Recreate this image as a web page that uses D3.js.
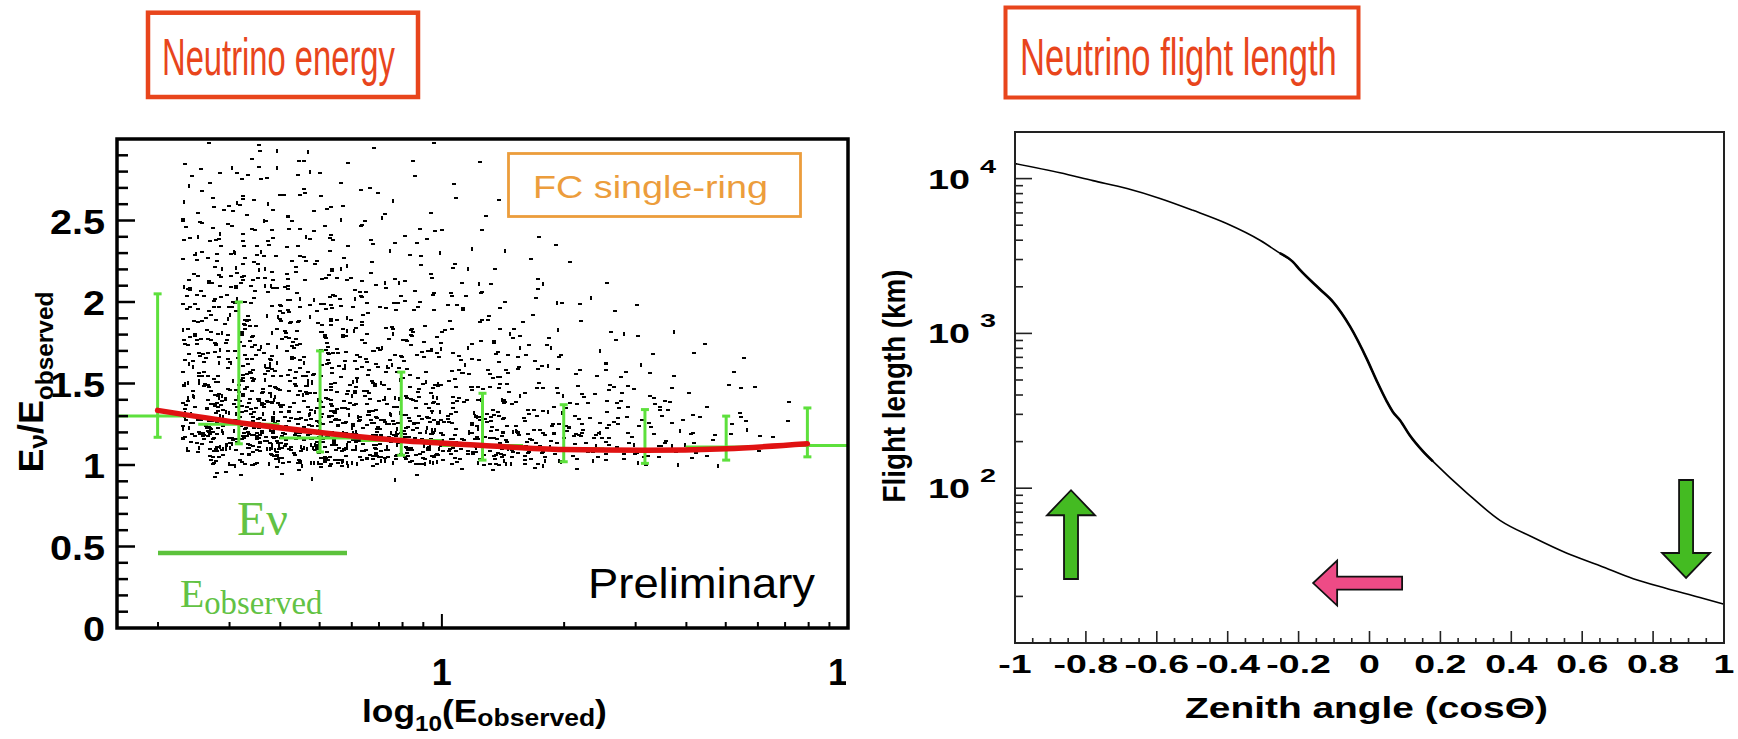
<!DOCTYPE html>
<html><head><meta charset="utf-8">
<script src="https://cdn.jsdelivr.net/npm/d3@7"></script>
<style>body{margin:0;background:#fff;} svg{display:block;}</style>
</head><body>
<svg id="c" width="1738" height="739"></svg>
<script>
// ================= DATA =================
// Left panel: profile of E_nu/E_observed in bins of log10(E_observed)
const profileLogE = [-0.7, -0.5, -0.3, -0.1, 0.1, 0.3, 0.5, 0.7, 0.9];
const profileMean = [1.30, 1.25, 1.165, 1.15, 1.12, 1.10, 1.09, 1.11, 1.12];
const profileHigh = [2.05, 2.00, 1.70, 1.57, 1.44, 1.37, 1.34, 1.30, 1.35];
const profileLow  = [1.17, 1.13, 1.08, 1.06, 1.03, 1.02, 1.01, 1.03, 1.05];
const profileHalfWidth = 0.1;
// red fitted line
const fitLogE  = [-0.7, -0.5, -0.3, -0.1, 0.1, 0.3, 0.5, 0.7, 0.9];
const fitRatio = [1.335, 1.26, 1.20, 1.15, 1.12, 1.095, 1.09, 1.10, 1.13];
// scatter: estimated number of events per cell (columns = log10 E bins, rows = ratio bins)
const scatterEdgesLogE = [-0.64, -0.55, -0.45, -0.35, -0.25, -0.15, -0.05, 0.05, 0.15, 0.25, 0.35, 0.45, 0.55, 0.65, 0.75, 0.86];
const scatterRowLow = [0.9, 1.0, 1.1, 1.2, 1.3, 1.4, 1.5, 1.6, 1.7, 1.8, 1.9, 2.0, 2.1, 2.2, 2.3, 2.4, 2.5, 2.6, 2.7, 2.8, 2.9];
const scatterCounts = [
  [2,  3, 3, 3, 2, 2, 1, 1, 1, 1, 0, 0, 0, 0, 0],
  [12,18,24,28,28,26,24,20,17,13,10, 8, 6, 4, 2],
  [24,32,36,36,34,30,26,22,18,14,11, 8, 6, 4, 3],
  [26,30,30,28,25,22,19,16,13,10, 8, 6, 4, 3, 2],
  [20,22,21,20,18,15,13,11, 9, 7, 6, 5, 3, 2, 1],
  [16,18,17,15,14,12,11, 9, 7, 6, 5, 4, 2, 2, 1],
  [14,15,14,13,11,10, 8, 7, 6, 4, 3, 2, 1, 1, 0],
  [13,14,13,11,10, 9, 7, 6, 5, 3, 2, 2, 1, 1, 0],
  [12,13,12,10, 9, 8, 6, 5, 4, 3, 2, 1, 1, 0, 0],
  [11,12,11, 9, 8, 7, 5, 4, 3, 2, 1, 1, 1, 0, 0],
  [10,11,10, 8, 7, 6, 4, 3, 2, 2, 1, 1, 0, 0, 0],
  [9, 10, 9, 7, 6, 5, 4, 3, 2, 1, 1, 0, 0, 0, 0],
  [8,  9, 8, 6, 5, 4, 3, 2, 1, 1, 1, 0, 0, 0, 0],
  [7,  8, 7, 5, 4, 3, 2, 2, 1, 1, 0, 0, 0, 0, 0],
  [6,  7, 6, 4, 3, 3, 2, 1, 1, 1, 0, 0, 0, 0, 0],
  [5,  6, 5, 4, 3, 2, 2, 1, 1, 0, 0, 0, 0, 0, 0],
  [4,  5, 4, 3, 2, 2, 1, 1, 0, 1, 0, 0, 0, 0, 0],
  [3,  4, 4, 3, 2, 1, 1, 1, 0, 0, 0, 0, 0, 0, 0],
  [3,  4, 3, 2, 1, 1, 1, 0, 1, 0, 0, 1, 0, 0, 0],
  [2,  3, 2, 2, 1, 1, 0, 1, 0, 0, 0, 0, 0, 0, 0],
  [1,  2, 1, 1, 1, 0, 1, 0, 0, 0, 0, 0, 0, 0, 0]
];
const leftYTicks = [0, 0.5, 1, 1.5, 2, 2.5];
const leftYTickLabels = ["0", "0.5", "1", "1.5", "2", "2.5"];
const leftXTicks = [1, 10];
const leftXTickLabels = ["1", "10"];

// Right panel: flight length vs cos(zenith)
const zenithCos = [-1, -0.873, -0.78, -0.684, -0.591, -0.498, -0.403, -0.309, -0.253, -0.216, -0.196, -0.14, -0.103, -0.055, -0.007, 0.021, 0.049, 0.066, 0.086, 0.114, 0.151, 0.179, 0.275, 0.368, 0.462, 0.557, 0.65, 0.744, 0.838, 0.932, 1.0];
const flightKm  = [12500, 10900, 9700, 8630, 7450, 6240, 5130, 4000, 3300, 2900, 2570, 1930, 1600, 1110, 680, 490, 363, 311, 275, 219, 173, 149, 93, 62, 48, 38, 31.6, 26, 22.5, 19.7, 17.8];
const rightXTicks = [-1, -0.8, -0.6, -0.4, -0.2, 0, 0.2, 0.4, 0.6, 0.8, 1];
const rightXTickLabels = ["-1", "-0.8", "-0.6", "-0.4", "-0.2", "0", "0.2", "0.4", "0.6", "0.8", "1"];
const rightYTicks = [100, 1000, 10000];
const rightYTickBase = ["10", "10", "10"];
const rightYTickExp = ["2", "3", "4"];
// direction arrows (data coordinates)
const upArrow   = {cos: -0.842, fromKm: 25.9, toKm: 97};
const downArrow = {cos: 0.893, fromKm: 113, toKm: 26.3};
const sideArrow = {km: 24.4, fromCos: 0.092, toCos: -0.159};

// ================= DRAWING =================
const svg = d3.select("#c");
svg.append("rect").attr("width", 1738).attr("height", 739).attr("fill", "#fff");

const SANS = "'Liberation Sans', Arial, Helvetica, sans-serif";
const SERIF = "'Liberation Serif', 'Times New Roman', serif";

// text helper: parts drawn as tspans, then stretched along the text to width or by sx
function fitText(parent, o) {
  const g = parent.append("g").attr("transform", `translate(${o.x},${o.y}) rotate(${o.rotate || 0})`);
  const t = g.append("text")
    .attr("text-anchor", o.anchor || "start")
    .attr("font-family", o.family || SANS)
    .attr("font-weight", o.weight || "normal")
    .attr("font-size", o.size)
    .attr("fill", o.fill || "#000");
  const parts = o.parts || [{t: o.text}];
  parts.forEach(p => {
    const s = t.append("tspan").text(p.t);
    if (p.size) s.attr("font-size", p.size);
    if (p.dy) s.attr("dy", p.dy);
  });
  let sx = o.sx || 1;
  if (o.width) sx = o.width / t.node().getBBox().width;
  t.attr("transform", `scale(${sx},1)`);
  return g;
}

// ---------- LEFT PANEL ----------
const L = {x0: 117, x1: 848, y0: 139, y1: 628};
const xL = d3.scaleLog().domain([Math.pow(10, -0.8), 10]).range([L.x0, L.x1]);
const yL = d3.scaleLinear().domain([0, 3]).range([L.y1, L.y0]);
const left = svg.append("g");

// title box
const TITLE_RED = "#e8451c";
left.append("rect").attr("x", 148).attr("y", 12.7).attr("width", 270).attr("height", 84.3)
  .attr("fill", "none").attr("stroke", TITLE_RED).attr("stroke-width", 4.5);
fitText(left, {x: 162, y: 75, size: 52, width: 233, text: "Neutrino energy", fill: TITLE_RED});

// scatter: each cell's events are spread over their cell with a fixed Halton layout (hashed index)
function halton(i, b) { let f = 1, r = 0; while (i > 0) { f /= b; r += f * (i % b); i = Math.floor(i / b); } return r; }
function hashIdx(i) {
  let x = Math.imul(i ^ 0x5bd1e995, 0x9E3779B1) >>> 0;
  x = (x ^ (x >>> 15)) >>> 0;
  x = Math.imul(x, 0x85ebca6b) >>> 0;
  x = (x ^ (x >>> 13)) >>> 0;
  return (x % 1000003) + 1;
}
const dots = [];
let n = 0;
scatterCounts.forEach((row, r) => {
  row.forEach((cnt, c) => {
    const e0 = scatterEdgesLogE[c], e1 = scatterEdgesLogE[c + 1];
    for (let k = 0; k < cnt; k++) {
      n++;
      const h = hashIdx(n);
      dots.push({logE: e0 + (e1 - e0) * halton(h, 2), ratio: scatterRowLow[r] + 0.1 * halton(h, 3), vert: h % 6 === 0});
    }
  });
});
left.append("g").attr("shape-rendering", "crispEdges").selectAll("rect").data(dots).join("rect")
  .attr("x", d => Math.round(xL(Math.pow(10, d.logE)) - 1.5))
  .attr("y", d => Math.round(yL(d.ratio) - 1))
  .attr("width", d => d.vert ? 2 : 4)
  .attr("height", d => d.vert ? 4 : 2)
  .attr("fill", "#000");

// green profile
const GREEN = "#5de03c";
const prof = profileLogE.map((e, i) => ({e, m: profileMean[i], hi: profileHigh[i], lo: profileLow[i]}));
const pg = left.append("g").attr("stroke", GREEN).attr("stroke-width", 3).attr("fill", "none");
prof.forEach(p => {
  const xc = xL(Math.pow(10, p.e));
  const xa = xL(Math.pow(10, p.e - profileHalfWidth)), xb = xL(Math.pow(10, p.e + profileHalfWidth));
  pg.append("line").attr("x1", xa).attr("x2", xb).attr("y1", yL(p.m)).attr("y2", yL(p.m));
  pg.append("line").attr("x1", xc).attr("x2", xc).attr("y1", yL(p.hi)).attr("y2", yL(p.lo));
  pg.append("line").attr("x1", xc - 4).attr("x2", xc + 4).attr("y1", yL(p.hi)).attr("y2", yL(p.hi));
  pg.append("line").attr("x1", xc - 4).attr("x2", xc + 4).attr("y1", yL(p.lo)).attr("y2", yL(p.lo));
});

// red fit
const fit = fitLogE.map((e, i) => ({e, v: fitRatio[i]}));
left.append("path").datum(fit)
  .attr("d", d3.line().x(d => xL(Math.pow(10, d.e))).y(d => yL(d.v)).curve(d3.curveMonotoneX))
  .attr("fill", "none").attr("stroke", "#e01212").attr("stroke-width", 5.5).attr("stroke-linecap", "round");

// frame
left.append("rect").attr("x", L.x0).attr("y", L.y0).attr("width", L.x1 - L.x0).attr("height", L.y1 - L.y0)
  .attr("fill", "none").attr("stroke", "#000").attr("stroke-width", 3.5);

// y ticks (inward)
const yMinor = d3.range(1, 30).map(i => i / 10);
left.append("g").selectAll("line").data(yMinor).join("line")
  .attr("x1", L.x0).attr("x2", d => L.x0 + (Math.abs(d * 2 - Math.round(d * 2)) < 1e-6 ? 18 : 11))
  .attr("y1", d => yL(d)).attr("y2", d => yL(d))
  .attr("stroke", "#000").attr("stroke-width", 2.5);
leftYTicks.forEach((v, i) => {
  fitText(left, {x: 105, y: yL(v) + 13, size: 36, weight: "bold", anchor: "end", sx: 1.1, text: leftYTickLabels[i]});
});

// x ticks (log, inward)
const xMinor = [];
[0.1, 1].forEach(dec => d3.range(2, 10).forEach(k => xMinor.push(k * dec)));
left.append("g").selectAll("line").data(xMinor.concat([1])).join("line")
  .attr("x1", d => xL(d)).attr("x2", d => xL(d))
  .attr("y1", L.y1).attr("y2", d => L.y1 - (d === 1 ? 14 : 6))
  .attr("stroke", "#000").attr("stroke-width", 2);
svg.append("defs").append("clipPath").attr("id", "leftClip")
  .append("rect").attr("x", 0).attr("y", 0).attr("width", 846).attr("height", 739);
const xlab = left.append("g").attr("clip-path", "url(#leftClip)");
leftXTicks.forEach((v, i) => {
  fitText(xlab, {x: xL(v), y: 685, size: 36, weight: "bold", anchor: "middle", text: leftXTickLabels[i]});
});

// axis titles
fitText(left, {x: 362, y: 722, size: 32, weight: "bold", width: 245, parts: [
  {t: "log"}, {t: "10", size: 22, dy: 9}, {t: "(E", dy: -9}, {t: "observed", size: 24, dy: 4}, {t: ")", dy: -4}
]});
fitText(left, {x: 43, y: 382, rotate: -90, size: 35, weight: "bold", anchor: "middle", width: 181, parts: [
  {t: "E"}, {t: "ν", size: 26, dy: 4}, {t: "/E", dy: -4}, {t: "observed", size: 24, dy: 10}
]});

// FC single-ring box
const ORANGE = "#ec9d3c";
left.append("rect").attr("x", 508.5).attr("y", 153.5).attr("width", 292).attr("height", 63)
  .attr("fill", "#fff").attr("stroke", ORANGE).attr("stroke-width", 2.8);
fitText(left, {x: 533, y: 198, size: 32, width: 235, text: "FC single-ring", fill: ORANGE});

// Preliminary
fitText(left, {x: 588, y: 598, size: 42, width: 227, text: "Preliminary"});

// Ev / Eobserved legend
const LGREEN = "#62c244";
fitText(left, {x: 237, y: 535, size: 48, family: SERIF, width: 51, text: "Eν", fill: LGREEN});
left.append("line").attr("x1", 158).attr("x2", 347).attr("y1", 553).attr("y2", 553)
  .attr("stroke", "#5cc23c").attr("stroke-width", 4.5);
fitText(left, {x: 180, y: 607, size: 40, family: SERIF, width: 143, fill: LGREEN, parts: [
  {t: "E"}, {t: "observed", size: 33, dy: 7}
]});

// ---------- RIGHT PANEL ----------
const R = {x0: 1015, x1: 1724, y0: 132, y1: 643};
const xR = d3.scaleLinear().domain([-1, 1]).range([R.x0, R.x1]);
const yR = d3.scaleLog().domain([10, 20000]).range([R.y1, R.y0]);
const right = svg.append("g");

right.append("rect").attr("x", 1005.5).attr("y", 7.5).attr("width", 353).attr("height", 90)
  .attr("fill", "none").attr("stroke", TITLE_RED).attr("stroke-width", 4);
fitText(right, {x: 1020, y: 75, size: 52, width: 317, text: "Neutrino flight length", fill: TITLE_RED});

// curve
const curve = zenithCos.map((c, i) => ({c, km: flightKm[i]}));
const lineR = d3.line().x(d => xR(d.c)).y(d => yR(d.km)).curve(d3.curveMonotoneX);
right.append("path").datum(curve).attr("d", lineR)
  .attr("fill", "none").attr("stroke", "#000").attr("stroke-width", 1.6);
right.append("path").datum(curve.filter(d => d.c > -0.26 && d.c < 0.2)).attr("d", lineR)
  .attr("fill", "none").attr("stroke", "#000").attr("stroke-width", 2.6);

// frame
right.append("rect").attr("x", R.x0).attr("y", R.y0).attr("width", R.x1 - R.x0).attr("height", R.y1 - R.y0)
  .attr("fill", "none").attr("stroke", "#222").attr("stroke-width", 2);

// y ticks
const yRMinor = [];
[10, 100, 1000, 10000].forEach(dec => d3.range(1, 10).forEach(k => {
  const v = k * dec; if (v > 10 && v < 20000) yRMinor.push(v);
}));
right.append("g").selectAll("line").data(yRMinor).join("line")
  .attr("x1", R.x0).attr("x2", d => R.x0 + (rightYTicks.includes(d) ? 17 : 8))
  .attr("y1", d => yR(d)).attr("y2", d => yR(d))
  .attr("stroke", "#222").attr("stroke-width", 1.6);
rightYTicks.forEach((v, i) => {
  fitText(right, {x: 970, y: yR(v) + 10, size: 28, weight: "bold", anchor: "end", width: 42, text: rightYTickBase[i]});
  fitText(right, {x: 980, y: yR(v) - 6, size: 18, weight: "bold", sx: 1.6, text: rightYTickExp[i]});
});

// x ticks
const xRTicks = d3.range(0, 41).map(i => -1 + i * 0.05);
right.append("g").selectAll("line").data(xRTicks.slice(1, -1)).join("line")
  .attr("x1", d => xR(d)).attr("x2", d => xR(d))
  .attr("y1", R.y1).attr("y2", (d, i) => R.y1 - ((i + 1) % 4 === 0 ? 12 : 5))
  .attr("stroke", "#222").attr("stroke-width", 1.6);
rightXTicks.forEach((v, i) => {
  fitText(right, {x: xR(v), y: 673, size: 25, weight: "bold", anchor: "middle", sx: 1.5, text: rightXTickLabels[i]});
});

// axis titles
fitText(right, {x: 1185, y: 718, size: 29, weight: "bold", width: 363, text: "Zenith angle (cosΘ)"});
fitText(right, {x: 905, y: 386, rotate: -90, size: 31, weight: "bold", anchor: "middle", width: 233, text: "Flight length (km)"});

// arrows
function vArrow(x, yTail, yTip, fill) {
  const dir = yTip < yTail ? -1 : 1;
  const head = 25, hw = 24, sw = 7;
  const yb = yTip - dir * head;
  const pts = [[x - sw, yTail], [x - sw, yb], [x - hw, yb], [x, yTip], [x + hw, yb], [x + sw, yb], [x + sw, yTail]];
  right.append("polygon").attr("points", pts.map(p => p.join(",")).join(" "))
    .attr("fill", fill).attr("stroke", "#111").attr("stroke-width", 1.8);
}
function hArrow(y, xTail, xTip, fill) {
  const dir = xTip < xTail ? -1 : 1;
  const head = 24, hh = 22.5, sw = 6.5;
  const xb = xTip - dir * head;
  const pts = [[xTail, y - sw], [xb, y - sw], [xb, y - hh], [xTip, y], [xb, y + hh], [xb, y + sw], [xTail, y + sw]];
  right.append("polygon").attr("points", pts.map(p => p.join(",")).join(" "))
    .attr("fill", fill).attr("stroke", "#111").attr("stroke-width", 1.8);
}
vArrow(xR(upArrow.cos), yR(upArrow.fromKm), yR(upArrow.toKm), "#44bb22");
vArrow(xR(downArrow.cos), yR(downArrow.fromKm), yR(downArrow.toKm), "#44bb22");
hArrow(yR(sideArrow.km), xR(sideArrow.fromCos), xR(sideArrow.toCos), "#ee4b86");
</script>
</body></html>
